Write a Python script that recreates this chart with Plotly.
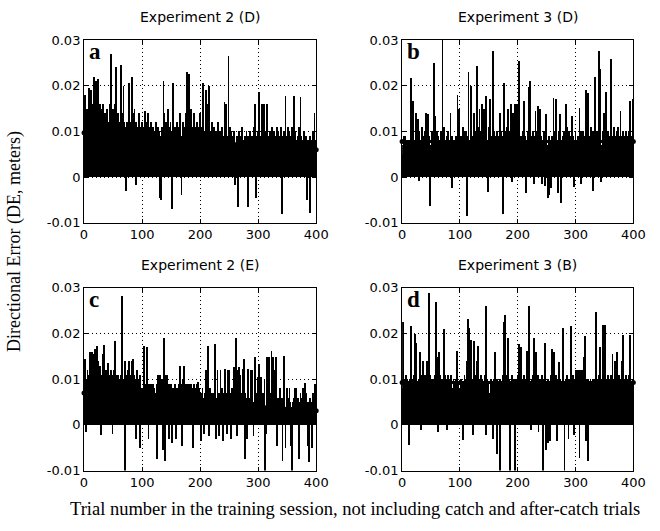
import numpy as np
import plotly.graph_objects as go

# ---------------- data ----------------
trials = list(range(1, 401))

# Directional error per trial, in millimetres
de_a_mm = [
    18, 10, 15, 8, 4.5, 12, 15, 9, 19.5, 11, 8, 19, 14, 10, 7, 16, 22, 11, 9, 21,
    8, 14, 10, 21.5, 9, 12, 7, 16, 11, 15, 8, 12, 16, 9, 11, 14, 8, 12, 10, 15,
    9, 12, 8, 14, 16, 10, 27, 9, 11, 15, 8, 12, 10, 16, 24, 9, 11, 8, 14, 10,
    12, 9, 11, 24.5, 10, 14, 8, 20, 12, 9, 11, 7, -3, 12, 10, 8, 14, 20.5, 11, 9,
    12, 22, 9, 14, 8, 11, 15, 10, -1.8, 12, 9, 11, 8, 10, 14, 7, 9, 11, 8, 12,
    9, 7, 11, 8, 14.5, 10, 6, 12, 9, 14, 8, 4, 11, 7, 10, 12, 8, 9, 11, 7,
    10, 8, 5, 12, 9, 7, 11, 8, 2.8, 10, -4.5, 9, -5, 8, 11, 7, 21, 14, 9, 8,
    12, 7, 10, 15, 8, 11, 6, 9, 12, 7, -7, 10, 8, 20.5, 9, 11, 7, 10, 8, 12,
    9, 7, 11, 8, 14, 10, 7, -4, 9, 12, 8, 11, 7, 10, 14, 9, 23, 8, 11, 7,
    22.5, 9, 12, 8, 15, 10, 7, 11, 9, 14, 8, 11, 7, 10, 12, 8, 9, 11, 7, 14,
    10, 7, 11, 8, 20.5, 9, 6, 10, 7, 19, 8, 11, 7, 16, 9, 20, 7, 10, 8, 6,
    12, 7, 9, 11, 6, 8, 10, 7, 9, 6, 12, 8, 7, 10, 6, 9, 8, 11, 7, 9,
    6, 16.5, 8, 10, 16, 7, 9, 6, 26.5, 8, 11, 7, 10, 6, 9, 7, 8, 5, 10, -1.8,
    4, 7, 9, 6, -6.5, 8, 10, 7, 5, 9, 6, 11, 7, 8, 4, 6, 9, 7, 4.5, 10,
    7, -6.5, 9, 6, 8, 10, 7, 6, 9, 8, 7, 11, 6, 16, 8, -4.7, 7, 9, 6, 10,
    8, 18.7, 7, 9, 6, 10, 16, 7, 8, 16, 9, 6, 10, 7, 16, 8, 6, 9, 7, 10,
    6, 9, 8, 11, 7, 5, 10, 6, 8, 7, 9, 11, 6, 8, 10, 7, 9, 6, 11, 8,
    -8.2, 7, 9, 6, 10, 8, 17.8, 7, 9, 6, 11, 8, 7, 10, 6, 9, 7, 8, 11, 6,
    9, 17.8, 7, 10, 6, 8, 7, 9, 6, 11, 8, 7, 17.5, 9, 6, 4, 8, 7, 10, 6,
    8, 7, 9, -5, 6, 8, 4.5, 7, 9, -7.9, 6, 8, 7, 10, 6, 9, 14, 7, 8, 6,
]

de_b_mm = [
    7, 5, 9, 8, 4, 9, 6, 8, 7, 5, 8, 6, 7, 8, 6, 21.7, 7, 11, 16.6, 6,
    8, 5, 7, 14, 6, 9, 12.7, 7, -0.8, 10, 6, 8, 7, 11, 5, 9, 6, 8, 7, 10,
    14, 6, 8, 7, 13.8, 5, 9, -6.4, 7, 6, 8, 10, 7, 5, 9, 25, 7, 13.4, 8, 6,
    10, 7, 9, 6, 8, 7, 10, 6, 8, 30, 4, 7, 11, 6, 8, 5, 9, 7, 10, 6,
    4, 8, 7, 14, 6, -2.5, 9, 7, 6, 8, 5, 7, 9, 6, 8, 18, 7, 10, 15, 4,
    7, 9, 6, 8, 11, 7, 10, 6, 8, 10, 7, -8.5, 9, 4, 23, 7, 8, 6, 10, 20,
    7, 9, 6, 8, 14, 7, 10, 6, 24.4, 8, 7, 11, 6, 15, 8, 7, 10, 16, 6, 9,
    8, 15, 7, 10, 6, 17.7, 8, 7, -3.3, 11, 6, 17, 8, 7, 9, 6, 27.6, 8, 10, 7,
    9, 6, 8, 4, 10, 7, 9, 6, 8, 14, 7, 10, 6, -8.2, 9, 7, 20.5, 8, 10, 6,
    11, 7, 9, 15, 6, 8, 10, 16, 7, 9, -1, 14, 6, 8, 16, 7, 10, 6, 16, 8,
    10, 7, 25.5, 8, 6, 9, 7, 8, 10, 6, 16.6, 7, 9, 8, -3.6, 6, 10, 7, 19.8, 8,
    21, 7, 9, 6, 8, 10, 7, -1.5, 9, 6, 14.5, 8, 7, 10, 15.5, 6, 9, 8, 15, 7,
    9, -1.5, 8, 6, 10, 7, -2, 9, 13.8, 8, 6, -4.7, 7, 9, -4, 6, 8, -2.5, 7, 9,
    6, 17.3, 8, 10, 7, 17, 9, 6, 8, -3.6, 7, 10, 6, 13.7, -5.7, 8, 7, 9, 6, 10,
    8, 7, 15.9, 9, 6, 11, 8, 7, 10, 6, 9, 8, 7, 13.4, 6, 9, -2.2, 8, 7, 10,
    6, 8, 7, 9, 6, 8, 15.2, 7, 10, -1.5, 8, 6, 10, 7, 9, 8, 6, 19, 8, 10,
    7, 18.5, 9, 6, 8, 7, 11, 9, 6, 10, -3, 8, 7, 21.9, 9, 6, 8, 10, 7, 9,
    27.6, 23.7, 8, -1, 5, 7, 10, 6, 14, 8, 7, 9, 18.7, 6, 8, 10, 7, 9, 6, 8,
    10, 25.8, 7, 9, 6, 8, 11, 7, 9, 6, 10, 8, 7, 11, 9, 6, 8, 14.5, 7, 9,
    6, 10, 8, 7, 9, 6, 10, 8, 7, 9, 6, 8, 10, 16.6, 7, 9, 6, 8, 17, 7,
]

de_c_mm = [
    14.5, 7, 10, -1.5, 9, 12, 8, 4, 11, 16, 9, 15, 7, 16, 11, 8, 15.5, 10, 16.6, 9,
    12, 17.3, 8, 14, 10, 11, 9, 13, -2.2, 8, 11, 15.5, 9, 12, 17.6, 10, 8, 12, 9, 11,
    10, 13.5, 8, 11, 9, 12, 8, 11, -2, 9, 12, 7, 18.4, 10, 8, 11, 6, 11, 9, 7,
    8, 10, 6, 11, 28.3, 9, 7, 8, 10, -10, 14, 8, 11, 7, 12, 10, 14, 8, 9, 11,
    7, 14, 10, 8, 14.5, 9, 11, 7, -3, 10, 12, 7, 9, 8, 10, 11, -5, 8, 6, 8,
    7, 6, 8, 17.3, 7, 5, 9, 17, 7, 8, -3, 9, 6, 8, 9, 7, 5, 8, 9, 7,
    8, 7, 2.7, 5, 9, -7.5, 8, 11, 7, 9, 11, 6, 8, 10, 7, -5.4, 9, 19, -7.9, 11,
    7, 9, 11, 6, 8, -3, 9, 7, 5, 9, 8, -4, 6, 8, 7, 9, 5, 8, -3, 7,
    8, 6, 9, 7, 13, 6, 8, 9, -4.7, 10, 7, 13, 8, 6, 9, 7, 8, 5, 9, 7,
    8, 9, 6, 7, 9, 8, 5, -5, 7, 9, 6, 8, 7, 9, 5, 9.5, 7, 2.5, 8, 6,
    -3.6, 7, 5, 8, 4, -2, 6, 7, 4, 12, 3, 6, 4, 17.3, 5, -2.5, 8, 4, 6, 4,
    7, 5, 7, 3, 5, 17.7, -3, 6, 4, 12, 5, 7, -2.5, 5, 12, 6, 4, 8, -3.5, 5,
    7, 4, 12.3, 5, 7, -2, 5, 12, 4, 12, 5, 7, -3, 5, 8, 6, 5, 12.7, 5, 7,
    5, 19, 12, -2.5, 6, 7, 12.7, 5, 11, 4, 7, 5, 12.3, 5, 14.5, 4, -7.5, 7, 5, 6,
    -3, 5, 12.3, 4, 6, 5, 12, 7, 4, 12, 5, -2.5, 5, 8, 15, 4, 7, 5, 10.6, 6,
    4, 13.4, 5, 5, 10.6, 6, 4, 7, 5, 5, 10, -10, 4, -2, 14.8, 5, 7, 4, 14.8, 5,
    5, 7, 16.2, 4, 14.8, 5, 5, 12, 4, 14.8, 3, -4.5, 5, 6, 4, 5, 3, 8, 5, 4,
    6, -7.9, 4, 15.2, 5, 3, -5, 4, 8, 5, 3, 6, 4, 8, 5, -4.5, 4, -10, 3, 5,
    6, 4, 8, 3, 5, 8, 4, 6, 3, -7.5, 5, 4, 7, 3, 6, 5, 8, 4, 3, 9.2,
    5, 4, 7, 3, -4.5, 5, -8, 4, 3, 6, 4, 5, -5, 7, 4, 5, 3, 9, 4, 9,
]

de_d_mm = [
    22.6, 8, 10, 7, 9, 8, 11, 7, 10, 9, 8, -4.3, 10, 5, 15.2, 21.6, 8, 10, 7, 9,
    11, 20, 8, 10, 18, 9, 7, 6, 10, 8, 15.9, 9, -1, 11, 8, 10, 14, 7, 9, 11,
    8, 10, 14, 7, 9, 29, 8, 11, 7, 10, 9, 8, 6, 10, 7, 9, 11, 8, 27, 10,
    15, 9, -1.5, 15.9, 8, 11, 7, 10, 9, 8, 10, 7, 21, 11, 8, 10, 7, -1, 9, 11,
    8, 10, 7, 9, 11, 8, 7, 6, 10, 7, 9, 6, 8, 10, 16.2, 7, 9, 5, 8, 6,
    5, 10, 8, 7, 9, -3.3, 8, 11, 7, 10, 9, 8, 14, 23.3, 10, 21.2, 8, 11, 9, 18.7,
    10, 8, -2.2, 18.4, 9, 11, 8, 10, 7, 14, 9, 17.3, 8, 10, 7, 9, 11, 8, 10, 5,
    9, 7, 11, 8, 26, -2.2, 10, 8, 9, 7, 5, 4, 8, 10, 7, 9, -3, 8, 10, 7,
    16, 9, 8, -6.4, 10, 7, 9, 8, -10, 10, 7, 9, 8, 11, 7, 22.6, 10, 24, 8, 9,
    7, 11, 9, 19, 8, 10, -10, 7, 9, 11, 8, 7, 10, 9, -10, 8, 10, 7, 9, 11,
    10, 17.7, 8, 9, 11, 17, 7, 10, 8, 9, 11, 7, 5, 10, 8, 16.2, 9, 7, 10, 26,
    9, 8, -1, 10, 7, 9, 11, 8, 19, 10, 8, 16, 7, 9, 11, -1.5, 8, 10, 7, 5,
    9, 11, 8, -10, 4, 10, 7, 18, -5.5, 9, 8, -4, 10, 7, 9, -3.5, 8, 11, 16.6, 9,
    8, 10, 16, 7, 9, 11, 8, -3.6, 10, 7, 13.8, 9, 8, 10, 7, 9, 8, 10, 21.2, 5,
    -10, 9, 10, 7, 11, 8, 10, -3, 9, 7, 10, 8, 21.6, 9, 10, 11, -2.2, 8, 10, 9,
    12, 10, 12, 9, 12, 10, -7.2, 12, 10, 12, 9, 12, 10, 15, 9, 11, 19.4, 10, -3.6, 9,
    10, -7.9, 5, 9, 8, 10, 4, 9, 7, 10, 8, 9, 7, 10, 8, 24.8, 9, 10, 7, 11,
    8, 10, 17, 9, 7, 10, 8, 22, 9, 11, 22, 8, 10, 7, 9, 11, 8, 10, 7, 9,
    11, 8, 10, 15.5, 9, 7, 10, 8, 14, 9, 7, 16, 10, 8, 11, 9, 7, 10, 8, 14,
    9, 19.8, 8, 10, 5, 9, 11, 8, 10, 7, 9, 11, 8, 19.8, 10, 7, 9, 8, 10, 9,
]

# Linear trend lines (start, end) in millimetres
trend_x = [0, 400]
trend_a_mm = [9.7, 6.0]
trend_b_mm = [7.8, 7.8]
trend_c_mm = [7.0, 3.1]
trend_d_mm = [9.3, 9.3]

titles = ["Experiment 2 (D)", "Experiment 3 (D)", "Experiment 2 (E)", "Experiment 3 (B)"]
letters = ["a", "b", "c", "d"]
y_tickvals = [-0.01, 0, 0.01, 0.02, 0.03]
y_ticktext = ["-0.01", "0", "0.01", "0.02", "0.03"]
x_tickvals = [0, 100, 200, 300, 400]
x_ticktext = ["0", "100", "200", "300", "400"]
y_title = "Directional Error (DE, meters)"
x_title = "Trial number in the training session, not including catch and after-catch trials"

for arr in (de_a_mm, de_b_mm, de_c_mm, de_d_mm):
    assert len(arr) == 400, len(arr)

# ---------------- figure ----------------
W, H = 660, 531
fig = go.Figure()

# panel boxes in pixels: (left, right, top, bottom)
boxes = [(82, 320, 34, 222), (408, 645, 34, 222), (82, 320, 289, 477), (408, 645, 289, 477)]
series = [de_a_mm, de_b_mm, de_c_mm, de_d_mm]
trends = [trend_a_mm, trend_b_mm, trend_c_mm, trend_d_mm]

tick_font = dict(family="DejaVu Sans", size=13, color="black")
layout_axes = {}
for i in range(4):
    sx = "" if i == 0 else str(i + 1)
    xa, ya = "x" + sx, "y" + sx
    vals = np.array(series[i], dtype=float) / 1000.0
    fig.add_trace(go.Bar(
        x=trials, y=vals, width=1.5, xaxis=xa, yaxis=ya,
        marker=dict(color="black", line=dict(width=0)), showlegend=False,
    ))
    fig.add_trace(go.Scatter(
        x=trend_x, y=np.array(trends[i]) / 1000.0, xaxis=xa, yaxis=ya,
        mode="lines+markers", line=dict(color="black", width=3),
        marker=dict(color="black", size=5), cliponaxis=False, showlegend=False,
    ))
    l, r, t, b = boxes[i]
    common = dict(showline=True, linecolor="black", linewidth=1, mirror="allticks",
                  ticks="inside", ticklen=4, tickcolor="black", tickwidth=1,
                  showgrid=True, gridcolor="black", gridwidth=1, griddash="1px,3px",
                  zeroline=False, tickfont=tick_font)
    layout_axes["xaxis" + sx] = dict(common, domain=[l / W, r / W], range=[0, 400],
                                     tickvals=x_tickvals, ticktext=x_ticktext,
                                     anchor=ya)
    layout_axes["yaxis" + sx] = dict(common, domain=[1 - b / H, 1 - t / H], range=[-0.01, 0.03],
                                     tickvals=y_tickvals, ticktext=y_ticktext,
                                     anchor=xa)

annotations = []
for i in range(4):
    sx = "" if i == 0 else str(i + 1)
    annotations.append(dict(text=titles[i], xref=("x" + sx) + " domain", yref=("y" + sx) + " domain",
                            x=0.5, y=1, xanchor="center", yanchor="bottom", yshift=13,
                            showarrow=False, font=dict(family="DejaVu Sans", size=14, color="black")))
    annotations.append(dict(text="<b>" + letters[i] + "</b>", xref=("x" + sx) + " domain",
                            yref=("y" + sx) + " domain", x=0.012, y=1, xanchor="left", yanchor="top",
                            yshift=3, showarrow=False,
                            font=dict(family="Liberation Serif", size=23, color="black")))

annotations.append(dict(text=y_title, xref="paper", yref="paper", x=10 / W, y=1 - 241 / H,
                        xanchor="center", yanchor="middle", textangle=-90, showarrow=False,
                        font=dict(family="Liberation Serif", size=18, color="black")))
annotations.append(dict(text=x_title, xref="paper", yref="paper", x=360 / W, y=1 - 517 / H,
                        xanchor="center", yanchor="middle", showarrow=False,
                        font=dict(family="Liberation Serif", size=18.5, color="black")))

fig.update_layout(width=W, height=H, margin=dict(l=0, r=0, t=0, b=0),
                  paper_bgcolor="white", plot_bgcolor="white", bargap=0,
                  annotations=annotations, **layout_axes)

fig.write_html("out.html", config={"displayModeBar": False},
               post_script="document.body.style.margin='0';document.body.style.overflow='hidden';")
